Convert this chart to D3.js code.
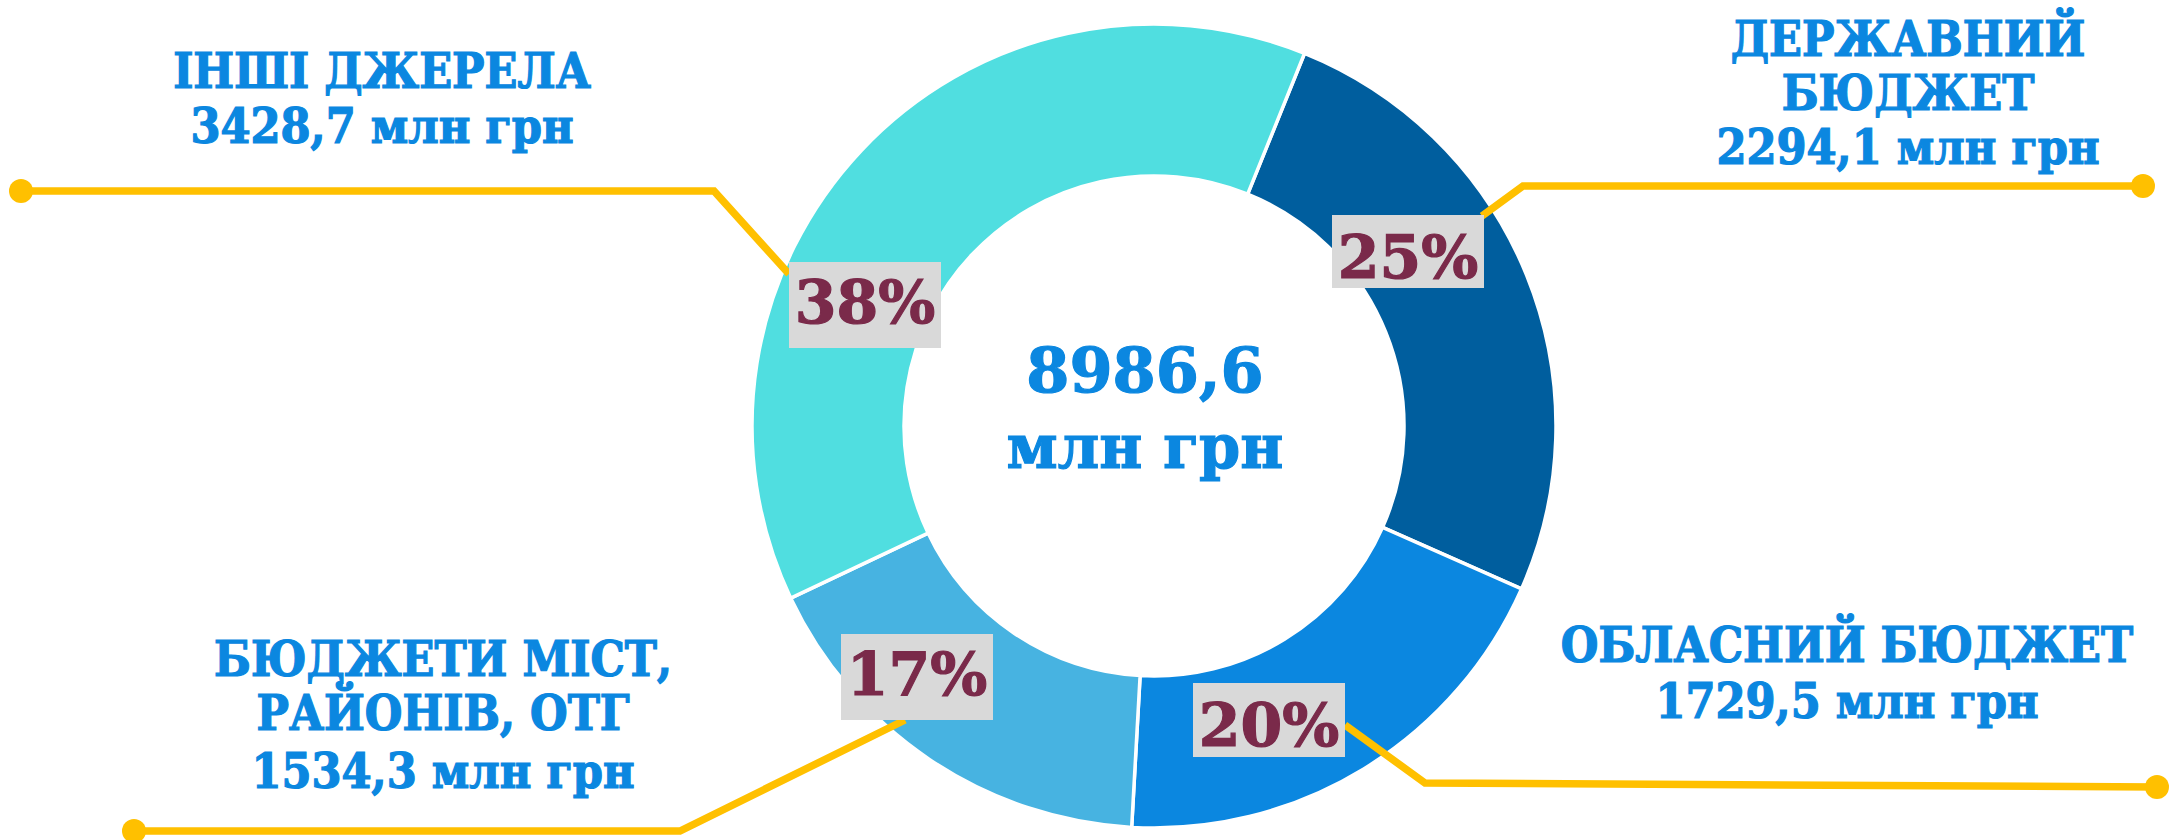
<!DOCTYPE html>
<html>
<head>
<meta charset="utf-8">
<script src="https://cdn.jsdelivr.net/npm/d3@7"></script>
<style>
  html, body { margin: 0; padding: 0; background: #ffffff; }
  svg { display: block; }
</style>
</head>
<body>
<div class="svg-container"></div>
<script>
// data
const categories = ['ДЕРЖАВНИЙ БЮДЖЕТ', 'ОБЛАСНИЙ БЮДЖЕТ', 'БЮДЖЕТИ МІСТ, РАЙОНІВ, ОТГ', 'ІНШІ ДЖЕРЕЛА'];
const labelLines = [['ДЕРЖАВНИЙ', 'БЮДЖЕТ'], ['ОБЛАСНИЙ БЮДЖЕТ'], ['БЮДЖЕТИ МІСТ,', 'РАЙОНІВ, ОТГ'], ['ІНШІ ДЖЕРЕЛА']];
const values = [2294.1, 1729.5, 1534.3, 3428.7];
const percentLabels = ['25%', '20%', '17%', '38%'];
const colors = ['#005e9e', '#0b87e0', '#47b3e1', '#50dee0'];
const unit = 'млн грн';

// set up required dimensions
const width = 2182;
const height = 840;
const cx = 1154;
const cy = 426;
const outerR = 402;
const innerR = 250;
const startDeg = 22;
const centreTextX = 1145;

const textBlue = '#0b87e0';
const pctColor = '#7a2a4a';
const boxFill = '#d9d9d9';
const gold = '#ffc000';
const labelFont = '"DejaVu Serif Condensed", "DejaVu Serif", serif';
const pctFont = '"DejaVu Serif", serif';

// hand placed label layout (text x, line baselines, box, leader polyline)
const layout = [
  { tx: 1908, base: [56, 110, 164], box: [1332, 215, 152, 73], pctBase: 278,
    leader: [[1482, 216], [1523, 186], [2143, 186]] },
  { tx: 1847, base: [662, 718], box: [1193, 683, 152, 74], pctBase: 746,
    leader: [[1345, 725], [1425, 783], [2157, 787]] },
  { tx: 443, base: [676, 730, 788], box: [841, 634, 152, 86], pctBase: 695,
    leader: [[905, 720], [680, 831], [134, 831]] },
  { tx: 382, base: [88, 143], box: [789, 262, 152, 86], pctBase: 323,
    leader: [[789, 274], [714, 191], [21, 191]] }
];

const fmt = v => v.toFixed(1).replace('.', ',');

const svg = d3.select('.svg-container')
  .append('svg')
  .attr('width', width)
  .attr('height', height);

const pie = d3.pie()
  .sort(null)
  .startAngle(startDeg * Math.PI / 180)
  .endAngle(startDeg * Math.PI / 180 + 2 * Math.PI);

const arc = d3.arc()
  .innerRadius(innerR)
  .outerRadius(outerR);

const arcs = pie(values);

const ring = svg.append('g')
  .attr('transform', `translate(${cx},${cy})`);

ring.selectAll('.slice')
  .data(arcs)
  .enter()
  .append('path')
  .attr('class', 'slice')
  .attr('d', arc)
  .attr('fill', (d, i) => colors[i])
  .attr('stroke', '#ffffff')
  .attr('stroke-width', 3.5);

// leader lines
const line = d3.line();
svg.selectAll('.leader')
  .data(layout)
  .enter()
  .append('path')
  .attr('class', 'leader')
  .attr('d', d => line(d.leader))
  .attr('fill', 'none')
  .attr('stroke', gold)
  .attr('stroke-width', 7.5);

svg.selectAll('.dot')
  .data(layout)
  .enter()
  .append('circle')
  .attr('class', 'dot')
  .attr('cx', d => d.leader[d.leader.length - 1][0])
  .attr('cy', d => d.leader[d.leader.length - 1][1])
  .attr('r', 12)
  .attr('fill', gold);

// percent boxes
const pct = svg.selectAll('.pct')
  .data(layout)
  .enter()
  .append('g')
  .attr('class', 'pct');

pct.append('rect')
  .attr('x', d => d.box[0])
  .attr('y', d => d.box[1])
  .attr('width', d => d.box[2])
  .attr('height', d => d.box[3])
  .attr('fill', boxFill);

pct.append('text')
  .attr('x', d => d.box[0] + d.box[2] / 2)
  .attr('y', d => d.pctBase)
  .attr('text-anchor', 'middle')
  .attr('font-family', pctFont)
  .attr('font-weight', 'bold')
  .attr('font-size', 60)
  .attr('fill', pctColor)
  .attr('stroke', pctColor)
  .attr('stroke-width', 1.2)
  .text((d, i) => percentLabels[i]);

// category labels
const labels = svg.selectAll('.label')
  .data(layout)
  .enter()
  .append('text')
  .attr('class', 'label')
  .attr('text-anchor', 'middle')
  .attr('font-family', labelFont)
  .attr('font-weight', 'bold')
  .attr('font-size', 48)
  .attr('fill', textBlue)
  .attr('stroke', textBlue)
  .attr('stroke-width', 1.2);

labels.each(function(d, i) {
  const rows = labelLines[i].concat([fmt(values[i]) + ' ' + unit]);
  d3.select(this).selectAll('tspan')
    .data(rows)
    .enter()
    .append('tspan')
    .attr('x', d.tx)
    .attr('y', (r, j) => d.base[j])
    .text(r => r);
});

// total in the middle
const total = d3.sum(values);
const centre = svg.append('g')
  .attr('font-family', pctFont)
  .attr('font-weight', 'bold')
  .attr('font-size', 62)
  .attr('text-anchor', 'middle')
  .attr('fill', textBlue)
  .attr('stroke', textBlue)
  .attr('stroke-width', 1.2);

centre.append('text')
  .attr('x', centreTextX)
  .attr('y', 392)
  .text(fmt(total));

centre.append('text')
  .attr('x', centreTextX)
  .attr('y', 468)
  .attr('textLength', 277)
  .attr('lengthAdjust', 'spacingAndGlyphs')
  .text(unit);
</script>
</body>
</html>
